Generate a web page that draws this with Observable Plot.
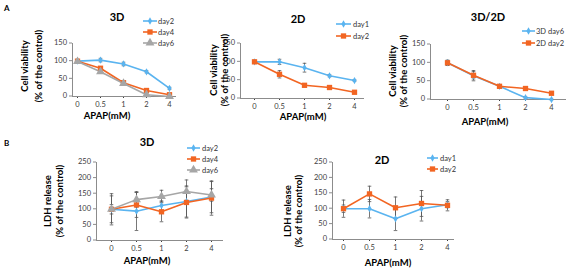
<!DOCTYPE html>
<html><head><meta charset="utf-8">
<script src="https://cdn.jsdelivr.net/npm/d3@7"></script>
<script src="https://cdn.jsdelivr.net/npm/@observablehq/plot@0.6"></script>
<style>
body{margin:0;background:#fff;}
#root{position:relative;width:567px;height:272px;overflow:hidden;font-family:Lato,"Open Sans",sans-serif;}
#root svg{position:absolute;overflow:visible;}
</style></head><body><div id="root"></div>
<script>
// ---- data ----
const doses = ["0","0.5","1","2","4"];
const yTicksA = [0,50,100,150];
const yTicksB = [0,50,100,150,200,250];

const a3d_day2 = [100,103,92,70,23];
const a3d_day2_err = [4,5,5,3,3];
const a3d_day4 = [100,80,39,17,5];
const a3d_day4_err = [4,3,3,3,2];
const a3d_day6 = [99,70,37,5,0];
const a3d_day6_err = [3,3,2,2,1];

const a2d_day1 = [100,100,84,62,49];
const a2d_day1_err = [4,7,12,3,2];
const a2d_day2 = [100,66,36,30,17];
const a2d_day2_err = [4,10,4,3,3];

const a32_3dday6 = [100,65,36,5,0];
const a32_3dday6_err = [7,14,3,2,1];
const a32_2dday2 = [100,66,36,30,17];
const a32_2dday2_err = [7,10,3,3,3];

const b3d_day2 = [100,94,112,125,139];
const b3d_day2_err = [43,62,15,50,50];
const b3d_day4 = [100,114,92,122,136];
const b3d_day4_err = [15,40,32,50,55];
const b3d_day6 = [100,131,141,157,146];
const b3d_day6_err = [50,24,20,37,20];

const b2d_day1 = [100,100,67,100,113];
const b2d_day1_err = [28,30,38,40,10];
const b2d_day2 = [100,148,103,117,111];
const b2d_day2_err = [12,25,35,42,18];

// ---- styles ----
const BLUE = {color:"#5AB4F0", symbol:"diamond", r:2.2};
const ORANGE = {color:"#F26522", symbol:"square", r:3};
const GREY = {color:"#A6A6A6", symbol:"triangle", r:3.3};
const AXIS = "#8c8c8c", TXT = "#404040", ERR = "#555";
const cap = {draw(ctx, size){ const w = Math.sqrt(size/Math.PI); ctx.moveTo(-w,0); ctx.lineTo(w,0); }};
const d3sym = {diamond:d3.symbolDiamond, square:d3.symbolSquare, triangle:d3.symbolTriangle};

const root = document.getElementById("root");

function panel(cfg){
  const marks = [
    Plot.frame({anchor:"left", stroke:AXIS}),
    Plot.frame({anchor:"bottom", stroke:AXIS})
  ];
  for (const s of cfg.series){
    const rows = doses.map((d,i)=>({dose:d, v:s.values[i]}));
    marks.push(Plot.line(rows, {x:"dose", y:"v", stroke:s.style.color, strokeWidth:1.6}));
  }
  for (const s of cfg.series){
    const rows = doses.map((d,i)=>({dose:d, lo:s.values[i]-s.err[i], hi:s.values[i]+s.err[i]}));
    marks.push(Plot.ruleX(rows, {x:"dose", y1:"lo", y2:"hi", stroke:ERR, strokeWidth:0.8}));
    marks.push(Plot.dot(rows, {x:"dose", y:"lo", symbol:cap, r:1.8, stroke:ERR, strokeWidth:0.8}));
    marks.push(Plot.dot(rows, {x:"dose", y:"hi", symbol:cap, r:1.8, stroke:ERR, strokeWidth:0.8}));
  }
  for (const s of cfg.series){
    const rows = doses.map((d,i)=>({dose:d, v:s.values[i]}));
    marks.push(Plot.dot(rows, {x:"dose", y:"v", symbol:s.style.symbol, r:s.style.r, fill:s.style.color, stroke:null}));
  }
  const svg = Plot.plot({
    width:cfg.w, height:cfg.h,
    marginLeft:cfg.m[0], marginRight:cfg.m[1], marginTop:cfg.m[2], marginBottom:cfg.m[3],
    x:{type:"point", domain:doses, range:cfg.xRange, padding:0, tickSize:2, tickPadding:3, label:null},
    y:{domain:[0,cfg.yMax], axis:null},
    style:{fontFamily:"Lato, 'Open Sans', sans-serif", fontSize:"7.5px", color:TXT, background:"transparent", overflow:"visible"},
    marks
  });
  svg.style.left = cfg.left+"px"; svg.style.top = cfg.top+"px";
  root.appendChild(svg);
  const g = d3.select(svg).append("g").attr("font-family","Lato, 'Open Sans', sans-serif");
  // y axis ticks and labels from the plot's own y scale
  const sy = svg.scale("y");
  for (const v of cfg.yTicks){
    const y = sy.apply(v);
    g.append("line").attr("x1",cfg.m[0]-3).attr("x2",cfg.m[0]).attr("y1",y).attr("y2",y).attr("stroke",AXIS);
    g.append("text").attr("x",cfg.m[0]-5).attr("y",y).attr("dy","0.32em").attr("text-anchor","end")
      .attr("font-size",7.5).attr("fill",TXT).text(String(v));
  }
  const t = (x,y,str,size,weight,anchor,rot) => {
    const e = g.append("text").attr("x",x).attr("y",y).attr("dy","0.35em")
      .attr("font-size",size).attr("font-weight",weight).attr("text-anchor",anchor).attr("fill","#000").text(str);
    if (rot) e.attr("transform",`rotate(${rot},${x},${y})`);
  };
  t(cfg.title.x, cfg.title.y, cfg.titleText, 11, "bold", "middle");
  t(cfg.xt.x, cfg.xt.y, "APAP(mM)", 9.5, "bold", "middle");
  t(cfg.yt.x1, cfg.yt.y, cfg.yText, 9.5, "bold", "middle", -90);
  t(cfg.yt.x2, cfg.yt.y, "(% of the control)", 9.5, "bold", "middle", -90);
  if (cfg.letter) t(cfg.letter.x, cfg.letter.y, cfg.letter.s, 8, "bold", "start");
  cfg.series.forEach((s,i)=>{
    const y = cfg.leg.ys[i];
    g.append("line").attr("x1",cfg.leg.x1).attr("x2",cfg.leg.x2).attr("y1",y).attr("y2",y)
      .attr("stroke",s.style.color).attr("stroke-width",1.6);
    g.append("path").attr("transform",`translate(${(cfg.leg.x1+cfg.leg.x2)/2},${y})`)
      .attr("d", d3.symbol(d3sym[s.style.symbol], Math.PI*s.style.r*s.style.r)()).attr("fill",s.style.color);
    g.append("text").attr("x",cfg.leg.tx).attr("y",y).attr("dy","0.35em").attr("font-size",7.5)
      .attr("text-anchor","start").attr("fill","#333").text(s.name);
  });
}

panel({left:0, top:0, w:190, h:135, m:[72,15,43,39], xRange:[77,169], yMax:150, yTicks:yTicksA,
  titleText:"3D", yText:"Cell viability", title:{x:117,y:17}, xt:{x:107,y:116}, yt:{x1:25,x2:39,y:66},
  leg:{x1:143,x2:157,tx:158,ys:[21,32,43]}, letter:{x:4,y:8,s:"A"},
  series:[{name:"day2",values:a3d_day2,err:a3d_day2_err,style:BLUE},
          {name:"day4",values:a3d_day4,err:a3d_day4_err,style:ORANGE},
          {name:"day6",values:a3d_day6,err:a3d_day6_err,style:GREY}]});

panel({left:190, top:0, w:190, h:135, m:[50,17,43,37], xRange:[63,165], yMax:150, yTicks:yTicksA,
  titleText:"2D", yText:"Cell viability", title:{x:108,y:19}, xt:{x:113,y:117}, yt:{x1:24,x2:35,y:70},
  leg:{x1:146,x2:161,tx:163,ys:[24,36]},
  series:[{name:"day1",values:a2d_day1,err:a2d_day1_err,style:BLUE},
          {name:"day2",values:a2d_day2,err:a2d_day2_err,style:ORANGE}]});

panel({left:370, top:0, w:197, h:135, m:[60,2,44,36], xRange:[76,182], yMax:150, yTicks:yTicksA,
  titleText:"3D/2D", yText:"Cell viability", title:{x:118,y:17}, xt:{x:115,y:122}, yt:{x1:23,x2:34,y:71},
  leg:{x1:152,x2:165,tx:166,ys:[31,43]},
  series:[{name:"3D day6",values:a32_3dday6,err:a32_3dday6_err,style:BLUE},
          {name:"2D day2",values:a32_2dday2,err:a32_2dday2_err,style:ORANGE}]});

panel({left:0, top:135, w:280, h:137, m:[96,58,27,32], xRange:[110,211], yMax:250, yTicks:yTicksB,
  titleText:"3D", yText:"LDH release", title:{x:147,y:7}, xt:{x:147,y:126}, yt:{x1:48,x2:60,y:66},
  leg:{x1:187,x2:200,tx:202,ys:[13,24,35]}, letter:{x:4,y:8,s:"B"},
  series:[{name:"day2",values:b3d_day2,err:b3d_day2_err,style:BLUE},
          {name:"day4",values:b3d_day4,err:b3d_day4_err,style:ORANGE},
          {name:"day6",values:b3d_day6,err:b3d_day6_err,style:GREY}]});

panel({left:280, top:135, w:287, h:137, m:[52,114,27,33], xRange:[62,167], yMax:250, yTicks:yTicksB,
  titleText:"2D", yText:"LDH release", title:{x:102,y:25}, xt:{x:108,y:128}, yt:{x1:8,x2:19,y:76},
  leg:{x1:147,x2:158,tx:160,ys:[23,34]},
  series:[{name:"day1",values:b2d_day1,err:b2d_day1_err,style:BLUE},
          {name:"day2",values:b2d_day2,err:b2d_day2_err,style:ORANGE}]});
</script>
</body></html>
